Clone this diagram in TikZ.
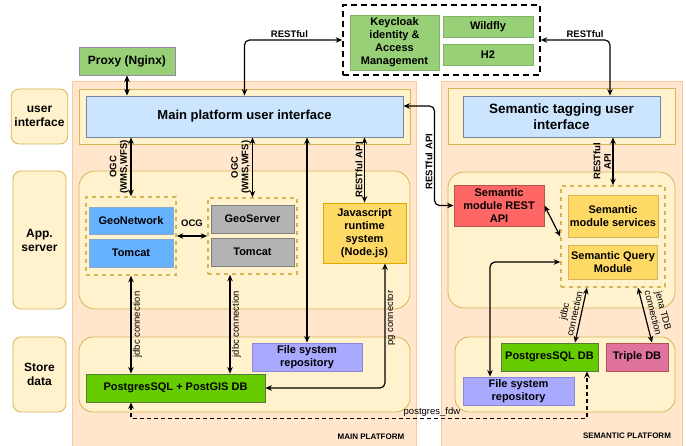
\documentclass[tikz,border=0pt]{standalone}
\usepackage{fontspec}
\setmainfont{Liberation Sans}
\usetikzlibrary{arrows.meta}
\definecolor{peach}{HTML}{FFE6CC}
\definecolor{peachline}{HTML}{F9CB9C}
\definecolor{lightyel}{HTML}{FFF2CC}
\definecolor{yelline}{HTML}{D6B656}
\definecolor{uiblue}{HTML}{CCE5FF}
\definecolor{uiline}{HTML}{7A8699}
\definecolor{kcgreen}{HTML}{97D077}
\definecolor{kcline}{HTML}{82B366}
\definecolor{proxyline}{HTML}{9A86A6}
\definecolor{gnblue}{HTML}{66B2FF}
\definecolor{gnline}{HTML}{8AA9CC}
\definecolor{srvgray}{HTML}{B3B3B3}
\definecolor{srvline}{HTML}{808080}
\definecolor{jsyel}{HTML}{FFD966}
\definecolor{jsline}{HTML}{E0A800}
\definecolor{fsblue}{HTML}{A9A9FF}
\definecolor{fsline}{HTML}{8888DD}
\definecolor{pggreen}{HTML}{66CC00}
\definecolor{pgline}{HTML}{557A38}
\definecolor{restred}{HTML}{FF6666}
\definecolor{restline}{HTML}{B85450}
\definecolor{tripink}{HTML}{E0739D}

\begin{document}
\begin{tikzpicture}[x=1pt,y=-1pt,>={Stealth[length=6.5pt,width=5.5pt]},
    plat/.style={fill=peach,draw=peachline,line width=0.8pt},
    lane/.style={fill=lightyel,draw=yelline,line width=0.8pt},
    side node/.style={lane,rounded corners=8pt,align=center,font=\fontsize{12}{14}\selectfont\bfseries},
    box/.style={draw,line width=0.9pt,align=center,inner sep=1pt,font=\fontsize{11}{13}\selectfont\bfseries},
    grp/.style={draw=yelline,dash pattern=on 4pt off 4pt,line width=1.5pt},
    link/.style={line width=1.2pt,<->},
    lbl/.style={font=\fontsize{9.5}{10.5}\selectfont\bfseries,inner sep=1.5pt,align=center},
    note/.style={font=\fontsize{9.5}{10.5}\selectfont,inner sep=1.5pt,align=center}]
            \fill[white] (0,0) rectangle (686,446);
            \useasboundingbox (0,0) rectangle (686,446);

            \filldraw[plat] (72,81) rectangle (416,446);
            \filldraw[plat] (441,81) rectangle (682,446);

            \filldraw[lane] (79,89) rectangle (410,144);
            \filldraw[lane,rounded corners=16pt] (79,171) rectangle (410,309);
            \filldraw[lane,rounded corners=14pt] (79,337) rectangle (410,412);
            \filldraw[lane] (448,88) rectangle (675,144);
            \filldraw[lane,rounded corners=16pt] (448,172) rectangle (675,308);
            \filldraw[lane,rounded corners=14pt] (455,337) rectangle (675,412);

            \node[side node,minimum width=53pt,minimum height=55pt] (ul) at (39.5,116.5) {user\\interface};
            \node[side node,minimum width=53pt,minimum height=138pt] (al) at (39.5,240) {App.\\server};
            \node[side node,minimum width=53pt,minimum height=75pt] (sl) at (39.5,374.5) {Store\\data};

            \node[box,fill=kcgreen,draw=proxyline,minimum width=96pt,minimum height=28pt,font=\fontsize{12}{14}\selectfont\bfseries] (proxy) at (127,61) {Proxy (Nginx)};
            \node[draw,dash pattern=on 6pt off 4pt,line width=1.5pt,minimum width=197pt,minimum height=70pt] (auth) at (441.5,40) {};
            \node[box,fill=kcgreen,draw=kcline,minimum width=89pt,minimum height=55pt] (kc) at (394.5,42.5) {Keycloak\\identity \&\\Access\\Management};
            \node[box,fill=kcgreen,draw=kcline,minimum width=90pt,minimum height=21pt] (wf) at (488,26.5) {Wildfly};
            \node[box,fill=kcgreen,draw=kcline,minimum width=90pt,minimum height=21pt] (h2) at (488,54.5) {H2};

            \node[box,fill=uiblue,draw=uiline,minimum width=317pt,minimum height=41pt,font=\fontsize{13}{16}\selectfont\bfseries] (mainui) at (244.5,116.5) {Main platform user interface};
            \node[box,fill=uiblue,draw=uiline,minimum width=197pt,minimum height=41pt,font=\fontsize{13.5}{16}\selectfont\bfseries] (semui) at (561.5,116.5) {Semantic tagging user\\interface};

            \node[grp,minimum width=90pt,minimum height=78pt] (gngrp) at (131,236) {};
            \node[box,fill=gnblue,draw=gnline,minimum width=84pt,minimum height=27pt] (gn) at (131,220.5) {GeoNetwork};
            \node[box,fill=gnblue,draw=gnline,minimum width=84pt,minimum height=28pt] (tc1) at (131,253) {Tomcat};
            \node[grp,minimum width=89pt,minimum height=76pt] (gsgrp) at (252.5,236) {};
            \node[box,fill=srvgray,draw=srvline,minimum width=83pt,minimum height=28pt] (gs) at (252.5,219) {GeoServer};
            \node[box,fill=srvgray,draw=srvline,minimum width=83pt,minimum height=28pt] (tc2) at (252.5,252) {Tomcat};
            \node[box,fill=jsyel,draw=jsline,minimum width=83pt,minimum height=60pt] (js) at (364.5,233) {Javascript\\runtime\\system\\(Node.js)};

            \node[box,fill=fsblue,draw=fsline,minimum width=110pt,minimum height=28pt] (fs1) at (307,357) {File system\\repository};
            \node[box,fill=pggreen,draw=pgline,minimum width=179pt,minimum height=28pt] (pg1) at (175.5,388) {PostgresSQL + PostGIS DB};

            \node[box,fill=restred,draw=restline,minimum width=90pt,minimum height=41pt] (rest) at (499,205.5) {Semantic\\module REST\\API};
            \node[grp,minimum width=104pt,minimum height=101pt] (semgrp) at (613,236.5) {};
            \node[box,fill=jsyel,draw=yelline,minimum width=90pt,minimum height=42pt] (svc) at (613,216) {Semantic\\module services};
            \node[box,fill=jsyel,draw=yelline,minimum width=89pt,minimum height=34pt] (query) at (613,262) {Semantic Query\\Module};
            \node[box,fill=fsblue,draw=fsline,minimum width=111pt,minimum height=28pt] (fs2) at (518.5,391) {File system\\repository};
            \node[box,fill=pggreen,draw=pgline,minimum width=97pt,minimum height=28pt] (pg2) at (549.5,357) {PostgresSQL DB};
            \node[box,fill=tripink,draw=restline,minimum width=62pt,minimum height=28pt] (triple) at (637,357) {Triple DB};

            \node[font=\fontsize{8}{9}\selectfont\bfseries] (mp) at (371,437) {MAIN PLATFORM};
            \node[font=\fontsize{8}{9}\selectfont\bfseries] (sp) at (627,436) {SEMANTIC PLATFORM};

            \coordinate (gsout) at ([xshift=-22.5pt]gsgrp.south);
            \coordinate (jsout) at ([xshift=20.5pt]js.south);
            \coordinate (fdwin) at ([xshift=37.5pt]pg2.south);

            \draw[link] (proxy.south) -- (proxy.south |- mainui.north);
            \draw[link,rounded corners=5pt] (mainui.north) |- (auth.west) node[lbl,pos=0.73,above] {RESTful};
            \draw[link,rounded corners=5pt] (auth.east) -| ([xshift=48.5pt]semui.north) node[lbl,pos=0.32,above] {RESTful};

            \draw[link] (gngrp.north) -- (gngrp.north |- mainui.south) node[lbl,midway,rotate=90,anchor=south] {OGC\\(WMS,WFS)};
            \draw[link] (gsgrp.north) -- (gsgrp.north |- mainui.south) node[lbl,midway,rotate=90,anchor=south] {OGC\\(WMS,WFS)};
            \draw[link] (fs1.north) -- (fs1.north |- mainui.south);
            \draw[link] (js.north) -- (js.north |- mainui.south) node[lbl,midway,rotate=90,anchor=south] {RESTful API};
            \draw[link] (gngrp.east) -- (gsgrp.west) node[lbl,midway,above=7pt] {OCG};

            \draw[link] (gngrp.south) -- (gngrp.south |- pg1.north) node[note,midway,rotate=90,anchor=north] {jdbc connection};
            \draw[link] (gsout) -- (gsout |- pg1.north) node[note,midway,rotate=90,anchor=north] {jdbc connection};
            \draw[link,rounded corners=5pt] (jsout) |- (pg1.east) node[note,pos=0.22,rotate=90,anchor=north] {pg connector};
            \draw[link,dash pattern=on 4pt off 3pt] (pg1.south -| gngrp.south) -- ++(0,16) -| (fdwin) node[note,pos=0.33,above] {postgres\_fdw};

            \draw[link] (semgrp.north) -- (semgrp.north |- semui.south) node[lbl,midway,rotate=90,anchor=south] {RESTful\\API};
            \draw[link,rounded corners=5pt] (rest.west) -- ++(-19,0) |- ([yshift=10.5pt]mainui.east) node[lbl,pos=0.22,rotate=90,anchor=south] {RESTful API};
            \draw[link] (rest.east) -- (semgrp.west);
            \draw[link,rounded corners=5pt] ([xshift=-28.5pt]fs2.north) |- (semgrp.west |- query.west);
            \draw[link] ([xshift=25.5pt]pg2.north) -- ([xshift=-26pt]semgrp.south) node[note,midway,sloped,above=1pt] {jdbc\\connection};
            \draw[link] ([xshift=25pt]semgrp.south) -- ([xshift=15pt]triple.north) node[note,midway,sloped,above=3pt] {jena TDB\\connection};
        \end{tikzpicture}
\end{document}
